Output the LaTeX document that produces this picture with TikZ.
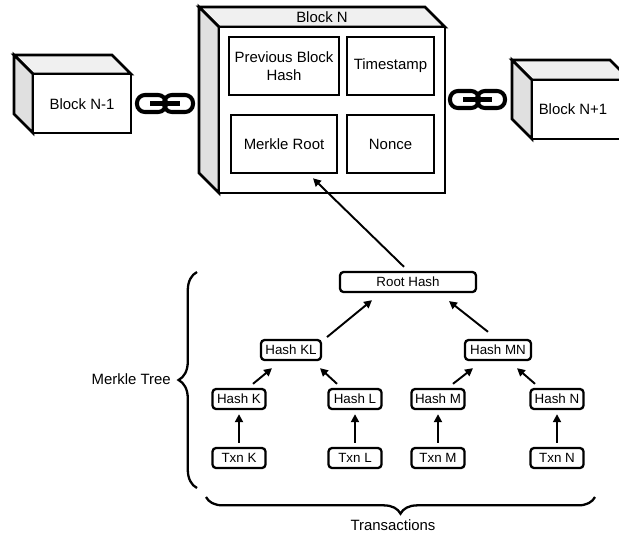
\documentclass[tikz,border=0pt]{standalone}
\usepackage{fontspec}
\setmainfont{Liberation Sans}
\usetikzlibrary{arrows.meta,decorations.pathreplacing}
\definecolor{sideface}{gray}{0.88}
\definecolor{topface}{gray}{0.94}

\tikzset{
	face/.style={draw,line width=1.6pt},
	lbl/.style={font=\fontsize{8.5}{10}\selectfont},
	part/.style={draw,line width=1.4pt,minimum height=1.16cm,align=center,font=\fontsize{8.5}{10}\selectfont},
	hashbox/.style={draw,line width=1.3pt,rounded corners=2pt,minimum height=0.4cm,inner sep=1pt,font=\fontsize{7.6}{9}\selectfont},
	up/.style={-{Triangle[length=4.5pt,width=4.5pt]},line width=1.1pt},
	link/.style={line width=2.3pt,rounded corners=4.5pt},
	brc/.style={decorate,decoration={brace,amplitude=#1},line width=1.3pt},
}

\begin{document}
\begin{tikzpicture}[x=0.02cm,y=-0.02cm]
	\useasboundingbox (0,0) rectangle (619,535);
	\filldraw[face,fill=topface] (14,55)--(112,55)--(131,74)--(33,74)--cycle;
	\filldraw[face,fill=sideface] (14,55)--(33,74)--(33,133)--(14,114)--cycle;
	\filldraw[face,fill=white] (33,74) rectangle (131,133);
	\node[lbl] (bprev) at (82,104) {Block N-1};
	\filldraw[face,fill=topface] (199,7)--(425,7)--(445,27)--(219,27)--cycle;
	\filldraw[face,fill=sideface] (199,7)--(219,27)--(219,193)--(199,173)--cycle;
	\filldraw[face,fill=white] (219,27) rectangle (445,193);
	\node[lbl] (bcur) at (322,17) {Block N};
	\filldraw[face,fill=topface] (512,60)--(610,60)--(630,80)--(532,80)--cycle;
	\filldraw[face,fill=sideface] (512,60)--(532,80)--(532,139)--(512,119)--cycle;
	\filldraw[face,fill=white] (532,80) rectangle (630,139);
	\node[lbl] (bnext) at (573,109) {Block N+1};
	\draw[link] (137,95) rectangle (166,112);
	\draw[link] (164,95) rectangle (193,112);
	\draw[link] (150,103.5)--(180,103.5);
	\draw[link] (450,91) rectangle (479,108);
	\draw[link] (477,91) rectangle (505,108);
	\draw[link] (463,99.5)--(492,99.5);
	\node[part,minimum width=2.12cm] (prev) at (284,66) {Previous Block\\Hash};
	\node[part,minimum width=1.74cm] (time) at (390.5,66) {Timestamp};
	\node[part,minimum width=2.12cm] (merkle) at (284,144) {Merkle Root};
	\node[part,minimum width=1.74cm] (nonce) at (390.5,144) {Nonce};
	\node[hashbox,minimum width=2.72cm] (root) at (408,282) {Root Hash};
	\node[hashbox,minimum width=1.2cm] (kl) at (291,350) {Hash KL};
	\node[hashbox,minimum width=1.32cm] (mn) at (498,350) {Hash MN};
	\foreach \n/\x in {K/239,L/355,M/438,N/557}{
		\node[hashbox,minimum width=1.06cm] (h\n) at (\x,399) {Hash \n};
		\node[hashbox,minimum width=1.06cm] (t\n) at (\x,458) {Txn \n};
		\draw[up,shorten <=2.3pt,shorten >=2.3pt] (t\n.north)--(h\n.south);
	}
	\draw[up] ([xshift=0.28cm,yshift=2.3pt]hK.north)--([xshift=-0.38cm,yshift=-4pt]kl.south);
	\draw[up] ([xshift=-0.36cm,yshift=2.3pt]hL.north)--([xshift=0.58cm,yshift=-4pt]kl.south);
	\draw[up] ([xshift=0.3cm,yshift=2.3pt]hM.north)--([xshift=-0.5cm,yshift=-4pt]mn.south);
	\draw[up] ([xshift=-0.44cm,yshift=2.3pt]hN.north)--([xshift=0.38cm,yshift=-4pt]mn.south);
	\draw[up] ([xshift=0.72cm,yshift=1pt]kl.north)--([xshift=-0.72cm,yshift=-4pt]root.south);
	\draw[up] ([xshift=-0.2cm,yshift=4pt]mn.north)--([xshift=0.82cm,yshift=-4.5pt]root.south);
	\draw[up] ([xshift=-0.08cm,yshift=2.3pt]root.north)--([xshift=0.58cm,yshift=-2.3pt]merkle.south);
	\coordinate (tt) at (197,272);
	\coordinate (tb) at (197,488);
	\draw[brc=10.5pt] (tb)--(tt);
	\node[lbl,anchor=east] (mtree) at (177,379) {Merkle Tree};
	\coordinate (bl) at (206,497);
	\coordinate (br) at (595,497);
	\draw[brc=9.5pt] (br)--(bl);
	\node[lbl] (txns) at (393,525) {Transactions};
\end{tikzpicture}
\end{document}
